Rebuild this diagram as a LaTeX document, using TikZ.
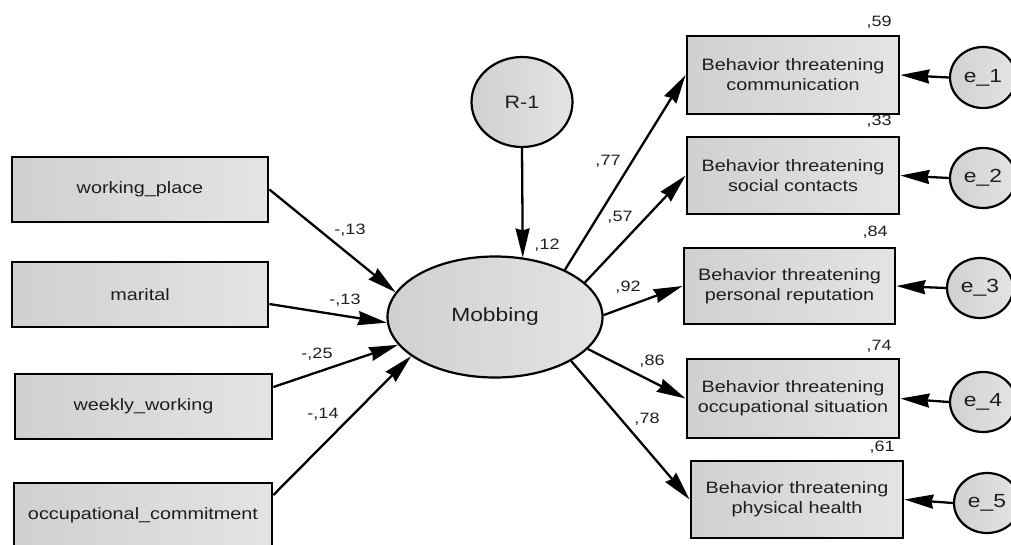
\documentclass[tikz,border=0pt]{standalone}
\usepackage{fontspec}
\setmainfont{Liberation Sans}[FakeStretch=1.2]
\usetikzlibrary{arrows.meta}
\usetikzlibrary{shapes.geometric}
\usetikzlibrary{calc}

\definecolor{shadeleft}{RGB}{208,208,208}
\definecolor{shaderight}{RGB}{228,228,228}
\definecolor{inkgray}{RGB}{30,30,30}

\begin{document}
\begin{tikzpicture}[
            > = {Stealth[length=29pt,width=14pt,inset=2pt]}, % arrow head style
            x = 1pt, y = -1pt, % picture in pixel units
            line width = 2.3pt, % line style
            text = inkgray
        ]

        \tikzstyle{observed}=[
            draw,
            rectangle,
            line width = 2.8pt,
            left color = shadeleft,
            right color = shaderight,
            align = center,
            inner sep = 0pt,
            font = \fontsize{16.5}{20}\selectfont
        ]
        \tikzstyle{latent}=[
            draw,
            ellipse,
            line width = 2.2pt,
            left color = shadeleft,
            right color = shaderight,
            inner sep = 0pt,
            font = \fontsize{19}{22}\selectfont
        ]
        \tikzstyle{coef}=[
            inner sep = 0pt,
            font = \fontsize{15}{15}\selectfont
        ]

        \useasboundingbox (0,0) rectangle (1011,544);

        % predictors
        \node[observed, minimum width=256, minimum height=65] (WP) at (140,189.5) {working\_place};
        \node[observed, minimum width=256, minimum height=65] (MAR) at (140,294.5) {marital};
        \node[observed, minimum width=257, minimum height=65] (WW) at (143.5,406.5) {weekly\_working};
        \node[observed, minimum width=258, minimum height=64] (OC) at (143,515) {occupational\_commitment};

        % latent factor and residual
        \node[latent, minimum width=215, minimum height=121] (MOB) at (495,317) {Mobbing};
        \node[latent, minimum width=101, minimum height=90, font=\fontsize{18}{20}\selectfont] (R1) at (522,102) {R-1};

        \path[->] (R1.south) edge node {} (MOB.65);
        \node[coef] (L12) at (547,245) {,12};

        \path[->] (WP.east) edge node {} (MOB.166);
        \path[->] ($(MAR.east)+(0,9.5)$) edge node {} (MOB.183);
        \path[->] ($(WW.east)+(0,-19.5)$) edge node {} (MOB.196);
        \path[->] ($(OC.east)+(0,-20)$) edge node {} (MOB.205);

        \node[coef] (LWP) at (350,230) {-,13};
        \node[coef] (LMAR) at (345,300) {-,13};
        \node[coef] (LWW) at (317,354) {-,25};
        \node[coef] (LOC) at (323,414) {-,14};

        % indicators
        \node[observed, minimum width=212, minimum height=78] (B1) at (793,75) {Behavior threatening\\communication};
        \node[observed, minimum width=212, minimum height=77] (B2) at (793,175.5) {Behavior threatening\\social contacts};
        \node[observed, minimum width=211, minimum height=76] (B3) at (789.5,286) {Behavior threatening\\personal reputation};
        \node[observed, minimum width=212, minimum height=79] (B4) at (793,398.5) {Behavior threatening\\occupational situation};
        \node[observed, minimum width=212, minimum height=77] (B5) at (797,499.5) {Behavior threatening\\physical health};

        \path[->] (MOB.34) edge node {} (B1.west);
        \path[->] (MOB.21) edge node {} (B2.west);
        \path[->] (MOB.1) edge node {} (B3.west);
        \path[->] (MOB.-19) edge node {} (B4.west);
        \path[->] (MOB.-30) edge node {} (B5.west);

        \node[coef] (L77) at (608,161) {,77};
        \node[coef] (L57) at (620,217) {,57};
        \node[coef] (L92) at (628,287) {,92};
        \node[coef] (L86) at (652,361) {,86};
        \node[coef] (L78) at (647,419) {,78};

        % squared multiple correlations
        \node[coef] (R59) at (879,22) {,59};
        \node[coef] (R33) at (879,121) {,33};
        \node[coef] (R84) at (875,232) {,84};
        \node[coef] (R74) at (879,346) {,74};
        \node[coef] (R61) at (882,447) {,61};

        % errors
        \node[latent, minimum width=66, minimum height=61] (E1) at (983,77.5) {e\_1};
        \node[latent, minimum width=66, minimum height=60] (E2) at (983,178) {e\_2};
        \node[latent, minimum width=66, minimum height=60] (E3) at (980,288) {e\_3};
        \node[latent, minimum width=66, minimum height=60] (E4) at (983,402) {e\_4};
        \node[latent, minimum width=66, minimum height=60] (E5) at (987,503) {e\_5};

        \path[->] (E1.west) edge node {} (B1.east);
        \path[->] (E2.west) edge node {} (B2.east);
        \path[->] (E3.west) edge node {} (B3.east);
        \path[->] (E4.west) edge node {} (B4.east);
        \path[->] (E5.west) edge node {} (B5.east);

\end{tikzpicture}
\end{document}
